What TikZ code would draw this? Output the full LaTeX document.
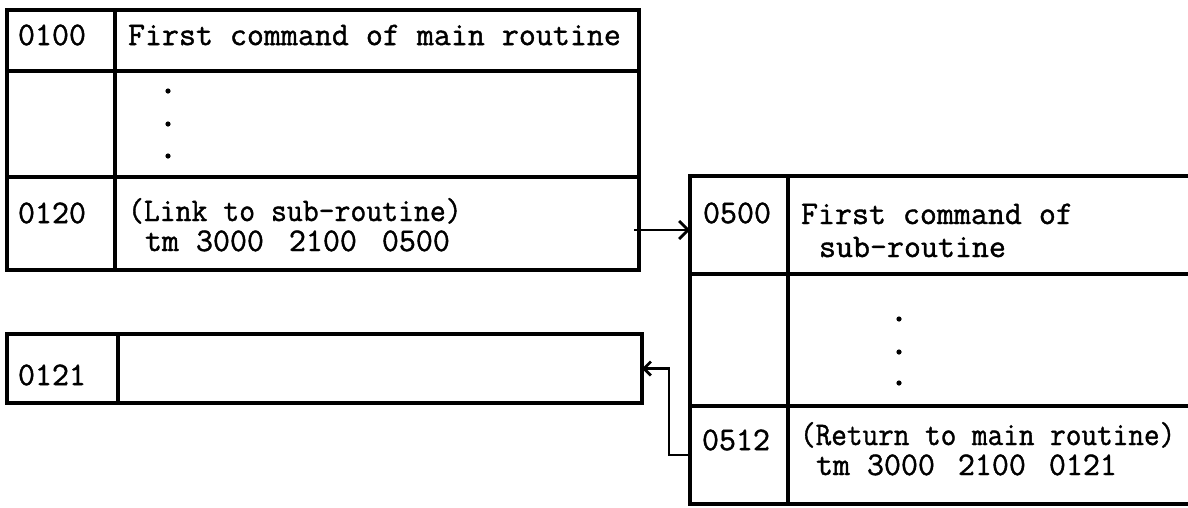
\documentclass[tikz,border=0pt]{standalone}
\usepackage{fontspec}
\newfontfamily\typew[FakeBold=1.2]{Latin Modern Mono}
\usetikzlibrary{fit,arrows.meta,calc}
\begin{document}
\begin{tikzpicture}[x=1pt,y=-1pt,
  cell/.style={draw, line width=3.2pt, inner sep=0pt, outer sep=0pt},
  txt/.style={inner sep=0pt, outer sep=0pt, font=\typew\fontsize{33}{36}\selectfont},
  conn/.style={line width=2.8pt},
  dotmark/.style={fill=black}]
\useasboundingbox (0,0) rectangle (1188,507);
% main routine block
\node[cell, fit={(7,10)(115,71)}] (m1l) {};
\node[cell, fit={(115,10)(639,71)}] (m1c) {};
\node[cell, fit={(7,71)(115,177)}] (m2l) {};
\node[cell, fit={(115,71)(639,177)}] (m2c) {};
\node[cell, fit={(7,177)(115,270)}] (m3l) {};
\node[cell, fit={(115,177)(639,270)}] (m3c) {};
% return location block
\node[cell, fit={(7,334)(118,403)}] (r1l) {};
\node[cell, fit={(118,334)(642,403)}] (r1c) {};
% sub-routine block
\node[cell, fit={(690,176)(788,274)}] (s1l) {};
\node[cell, fit={(788,176)(1205,274)}] (s1c) {};
\node[cell, fit={(690,274)(788,406)}] (s2l) {};
\node[cell, fit={(788,274)(1205,406)}] (s2c) {};
\node[cell, fit={(690,406)(788,504)}] (s3l) {};
\node[cell, fit={(788,406)(1205,504)}] (s3c) {};
% texts
\node[txt, anchor=west] (t0100) at (18,35) {0100};
\node[txt, anchor=west] (tfirst) at (128,35) {First command of main routine};
\node[txt, anchor=west] (t0120) at (18,213) {0120};
\node[txt, anchor=base west] (tlink) at (128,221) {\scalebox{0.935}[1]{(Link to sub-routine)}};
\node[txt, anchor=base west] (ttm1) at (145,251) {tm 3000\hspace{8pt} 2100\hspace{8pt} 0500};
\node[txt, anchor=west] (t0121) at (18,375) {0121};
\node[txt, anchor=west] (t0500) at (703,213) {0500};
\node[txt, anchor=base west] (tsub1) at (801,224) {First command of};
\node[txt, anchor=base west] (tsub2) at (819,257) {sub-routine};
\node[txt, anchor=west] (t0512) at (702,440) {0512};
\node[txt, anchor=base west] (tret) at (800,445) {\scalebox{0.92}[1]{(Return to main routine)}};
\node[txt, anchor=base west] (ttm2) at (816,475) {tm 3000\hspace{6pt} 2100\hspace{6pt} 0121};
% dots
\fill[dotmark] (168,91) circle (2.6);
\fill[dotmark] (168,124) circle (2.6);
\fill[dotmark] (168,156) circle (2.6);
\fill[dotmark] (899,319) circle (2.6);
\fill[dotmark] (899,352) circle (2.6);
\fill[dotmark] (899,383) circle (2.6);
% connectors
\coordinate (a0) at ($(m3c.east)+(-5,6.5)$);
\draw[conn, -{Straight Barb[length=9pt,width=18pt]}] (a0) -- (a0 -| s1l.west);
\draw[conn, -{Straight Barb[length=7pt,width=14pt]}] (s3l.west) -- ++(-21,0) |- (r1c.east);
\end{tikzpicture}
\end{document}
